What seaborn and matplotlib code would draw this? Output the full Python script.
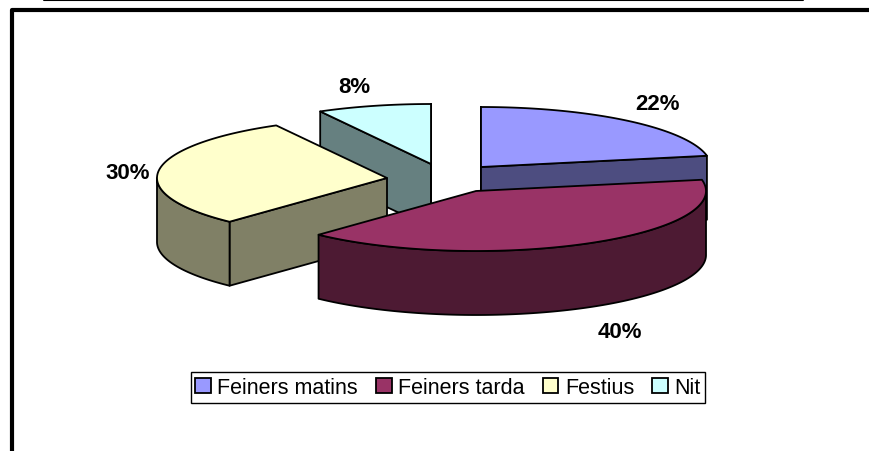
import numpy as np
import seaborn as sns
import matplotlib.pyplot as plt
from matplotlib.patches import Polygon, Patch

# Pie data
categories = ['Feiners matins', 'Feiners tarda', 'Festius', 'Nit']
shares = [22, 40, 30, 8]
share_labels = ['22%', '40%', '30%', '8%']

sns.set_style('white')
plt.rcParams['font.family'] = ['Liberation Sans', 'DejaVu Sans']

top_colors = sns.color_palette(['#9999FF', '#993366', '#FFFFCC', '#CCFFFF'])
side_colors = sns.color_palette(['#4D4D80', '#4D1A33', '#808066', '#668080'])

# Layout of the fake 3D pie, in image pixels
rx, ry, depth = 230, 60, 64
apexes = [(481, 168), (476, 192), (387, 179), (431, 165)]
label_pos = [(657, 104.5), (620, 332.5), (128, 173.5), (354, 87.5)]
draw_order = [3, 0, 2, 1]

fig = plt.figure(figsize=(8.69, 4.52), dpi=100)
ax = fig.add_axes([0, 0, 1, 1])
ax.set_xlim(0, 869)
ax.set_ylim(452, 0)
ax.axis('off')

# Frame lines around the chart
ax.plot([44, 803], [0.5, 0.5], color='black', lw=1.5)
ax.plot([11.5, 11.5, 869], [452, 10.5, 10.5], color='black', lw=3, solid_joinstyle='round')


def arc(apex, a0, a1, drop=0):
    # angles in degrees, clockwise from the top
    t = np.radians(np.linspace(a0, a1, max(int(abs(a1 - a0)), 2)))
    return np.column_stack([apex[0] + rx * np.sin(t), apex[1] - ry * np.cos(t) + drop])


edges = np.cumsum([0] + shares) * 3.6
line = dict(edgecolor='black', lw=1.3, joinstyle='round')

for i in draw_order:
    a0, a1 = edges[i], edges[i + 1]
    apex = np.array(apexes[i], dtype=float)
    # cut faces, only the ones turned to the viewer
    visible = []
    if a0 >= 180 or a0 == 0:
        visible.append(a0)
    if a1 <= 180 or a1 == 360:
        visible.append(a1)
    for a in visible:
        p = arc(apex, a, a + 0.01)[0]
        face = [apex, p, p + [0, depth], apex + [0, depth]]
        ax.add_patch(Polygon(face, facecolor=side_colors[i], **line))
    # front rim
    r0, r1 = max(a0, 90), min(a1, 270)
    if r1 > r0:
        rim = np.vstack([arc(apex, r0, r1), arc(apex, r1, r0, drop=depth)])
        ax.add_patch(Polygon(rim, facecolor=side_colors[i], **line))
    # top of the slice
    top = np.vstack([[apex], arc(apex, a0, a1)])
    ax.add_patch(Polygon(top, facecolor=top_colors[i], **line))

for lab, pos in zip(share_labels, label_pos):
    ax.text(pos[0], pos[1], lab, ha='center', va='center', fontsize=16, fontweight='bold', color='black')

handles = [Patch(facecolor=c, edgecolor='black', lw=1.3) for c in top_colors]
ax.legend(handles, categories, ncol=4, loc='center', bbox_to_anchor=(448, 388.5),
          bbox_transform=ax.transData, fontsize=15.5, labelcolor='black', frameon=True, fancybox=False,
          framealpha=1, edgecolor='black', handlelength=0.72, handleheight=0.72,
          handletextpad=0.3, columnspacing=0.85, borderpad=0.22, borderaxespad=0)

fig.savefig('out.png', dpi=100)
